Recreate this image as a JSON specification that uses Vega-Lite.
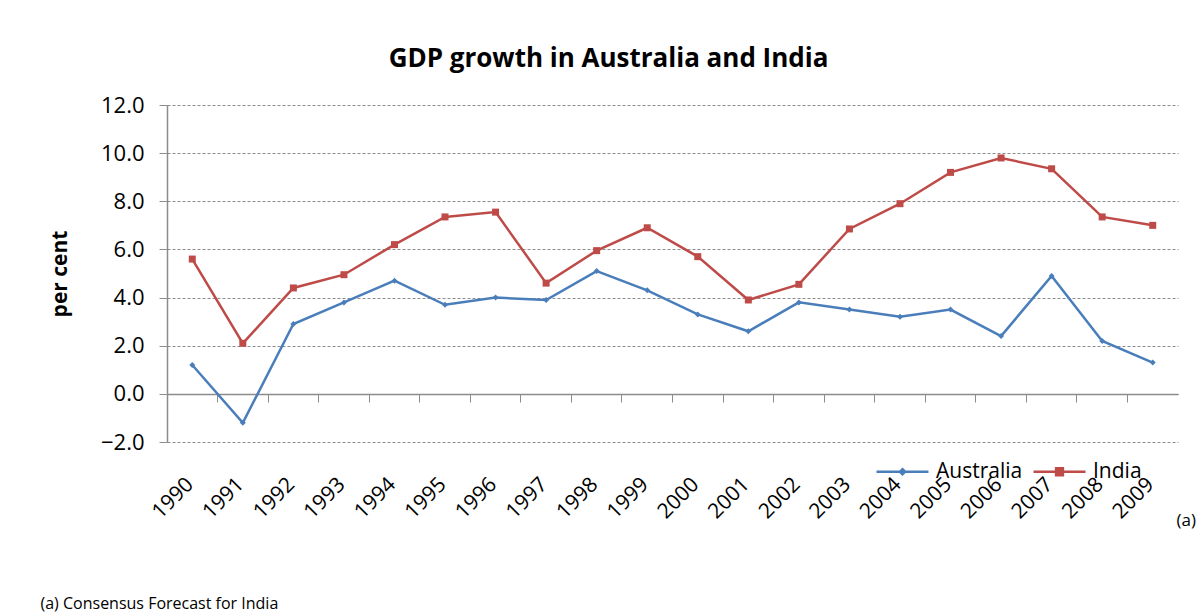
{
  "$schema": "https://vega.github.io/schema/vega-lite/v6.json",
  "width": 1011,
  "height": 337,
  "autosize": {"type": "none"},
  "padding": {"left": 167, "top": 105, "right": 19, "bottom": 172},
  "background": "white",
  "config": {
    "view": {"stroke": null},
    "font": "Open Sans",
    "axis": {"labelFont": "Open Sans", "titleFont": "Open Sans", "labelColor": "#000000", "titleColor": "#000000"},
    "legend": {"labelFont": "Open Sans"}
  },
  "title": {
    "text": "GDP growth in Australia and India",
    "font": "Open Sans",
    "fontSize": 26,
    "fontWeight": "bold",
    "color": "#000000",
    "anchor": "middle",
    "frame": "group",
    "dx": -64,
    "dy": 38,
    "baseline": "alphabetic",
    "offset": 39
  },
  "data": {
    "values": [
      {"year": "1990", "series": "Australia", "value": 1.2},
      {"year": "1991", "series": "Australia", "value": -1.2},
      {"year": "1992", "series": "Australia", "value": 2.9},
      {"year": "1993", "series": "Australia", "value": 3.8},
      {"year": "1994", "series": "Australia", "value": 4.7},
      {"year": "1995", "series": "Australia", "value": 3.7},
      {"year": "1996", "series": "Australia", "value": 4.0},
      {"year": "1997", "series": "Australia", "value": 3.9},
      {"year": "1998", "series": "Australia", "value": 5.1},
      {"year": "1999", "series": "Australia", "value": 4.3},
      {"year": "2000", "series": "Australia", "value": 3.3},
      {"year": "2001", "series": "Australia", "value": 2.6},
      {"year": "2002", "series": "Australia", "value": 3.8},
      {"year": "2003", "series": "Australia", "value": 3.5},
      {"year": "2004", "series": "Australia", "value": 3.2},
      {"year": "2005", "series": "Australia", "value": 3.5},
      {"year": "2006", "series": "Australia", "value": 2.4},
      {"year": "2007", "series": "Australia", "value": 4.9},
      {"year": "2008", "series": "Australia", "value": 2.2},
      {"year": "2009", "series": "Australia", "value": 1.3},
      {"year": "1990", "series": "India", "value": 5.6},
      {"year": "1991", "series": "India", "value": 2.1},
      {"year": "1992", "series": "India", "value": 4.4},
      {"year": "1993", "series": "India", "value": 4.95},
      {"year": "1994", "series": "India", "value": 6.2},
      {"year": "1995", "series": "India", "value": 7.35},
      {"year": "1996", "series": "India", "value": 7.55},
      {"year": "1997", "series": "India", "value": 4.6},
      {"year": "1998", "series": "India", "value": 5.95},
      {"year": "1999", "series": "India", "value": 6.9},
      {"year": "2000", "series": "India", "value": 5.7},
      {"year": "2001", "series": "India", "value": 3.9},
      {"year": "2002", "series": "India", "value": 4.55},
      {"year": "2003", "series": "India", "value": 6.85},
      {"year": "2004", "series": "India", "value": 7.9},
      {"year": "2005", "series": "India", "value": 9.2},
      {"year": "2006", "series": "India", "value": 9.8},
      {"year": "2007", "series": "India", "value": 9.35},
      {"year": "2008", "series": "India", "value": 7.35},
      {"year": "2009", "series": "India", "value": 7.0}
    ]
  },
  "encoding": {
    "y": {
      "field": "value",
      "type": "quantitative",
      "scale": {"domain": [-2, 12], "nice": false, "zero": false},
      "axis": {
        "title": "per cent",
        "titleFontSize": 21,
        "titleFontWeight": "bold",
        "titlePadding": 30,
        "values": [-2, 0, 2, 4, 6, 8, 10, 12],
        "format": ".1f",
        "labelFontSize": 22,
        "labelPadding": 15,
        "tickSize": 8,
        "tickColor": "#8c8c8c",
        "domainColor": "#8c8c8c",
        "domainWidth": 1.5,
        "grid": true,
        "gridColor": "#8c8c8c",
        "gridDash": [3, 2],
        "gridWidth": 1
      }
    },
    "color": {
      "field": "series",
      "type": "nominal",
      "scale": {"domain": ["Australia", "India"], "range": ["#4A7EBB", "#BE4B48"]},
      "legend": {
        "orient": "none",
        "legendX": 708,
        "legendY": 339,
        "direction": "horizontal",
        "title": null,
        "labelFontSize": 21,
        "labelColor": "#000000",
        "labelOffset": 6,
        "columnPadding": 5,
        "symbolType": "M-1,0H1M-0.13,-0.13H0.13V0.13H-0.13Z",
        "symbolSize": 2700,
        "symbolStrokeWidth": 2.5,
        "encode": {
          "symbols": {
            "update": {
              "fill": {"scale": "color", "field": "value"},
              "stroke": {"scale": "color", "field": "value"},
              "strokeWidth": {"value": 2.5},
              "opacity": {"value": 1},
              "size": {"value": 2700},
              "shape": {"signal": "datum.value === 'India' ? 'M-1,0H1M-0.13,-0.13H0.13V0.13H-0.13Z' : 'M-1,0H1M0,-0.1L0.1,0L0,0.1L-0.1,0Z'"}
            }
          }
        }
      }
    }
  },
  "layer": [
    {
      "mark": {"type": "line", "strokeWidth": 2.5},
      "encoding": {
        "x": {
          "field": "year",
          "type": "ordinal",
          "bandPosition": 0.5,
          "scale": {"type": "band", "paddingInner": 0, "paddingOuter": 0},
          "axis": {
            "orient": "bottom",
            "bandPosition": 0.5,
            "labelAngle": -45,
            "labelAlign": "right",
            "labelBaseline": "middle",
            "labelFontSize": 21,
            "labelPadding": 39,
            "labelOffset": -2,
            "ticks": false,
            "domain": false,
            "grid": false,
            "title": "(a) Consensus Forecast for India",
            "titleFontSize": 16,
            "titleFontWeight": "normal",
            "titleAlign": "left",
            "titleBaseline": "alphabetic",
            "titleX": -127,
            "titleY": 166
          }
        }
      }
    },
    {
      "transform": [{"filter": "datum.series === 'Australia'"}],
      "mark": {"type": "point", "filled": true, "opacity": 1, "shape": "diamond", "size": 36},
      "encoding": {
        "x": {
          "field": "year",
          "type": "ordinal",
          "bandPosition": 0.5,
          "scale": {"type": "band", "paddingInner": 0, "paddingOuter": 0},
          "axis": {
            "orient": "bottom",
            "offset": -48,
            "bandPosition": 0,
            "labels": false,
            "ticks": true,
            "tickSize": 8,
            "tickColor": "#8c8c8c",
            "domain": true,
            "domainColor": "#8c8c8c",
            "domainWidth": 1.5,
            "grid": false,
            "title": "(a)",
            "titleFontSize": 17,
            "titleFontWeight": "normal",
            "titleAlign": "left",
            "titleBaseline": "alphabetic",
            "titleX": 1009,
            "titleY": 131
          }
        }
      }
    },
    {
      "transform": [{"filter": "datum.series === 'India'"}],
      "mark": {"type": "point", "filled": true, "opacity": 1, "shape": "square", "size": 49},
      "encoding": {
        "x": {
          "field": "year",
          "type": "ordinal",
          "bandPosition": 0.5,
          "scale": {"type": "band", "paddingInner": 0, "paddingOuter": 0},
          "axis": null
        }
      }
    }
  ],
  "resolve": {"axis": {"x": "independent"}}
}
